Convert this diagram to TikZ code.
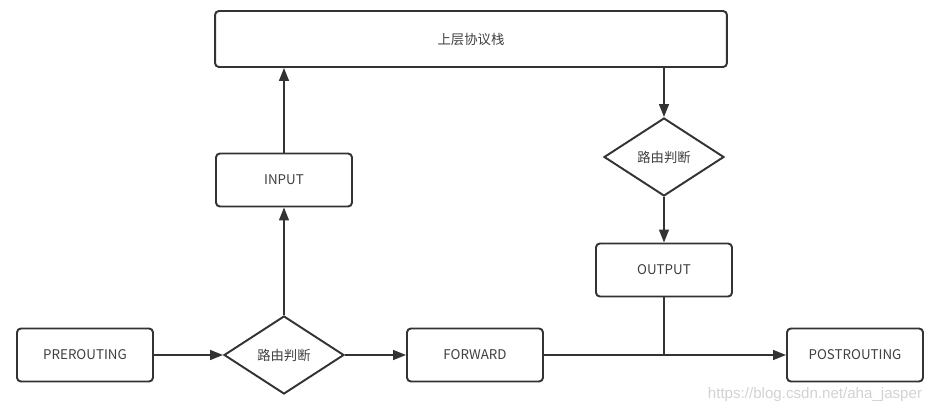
\documentclass[tikz,border=0pt]{standalone}
\usepackage{fontspec}
\setmainfont{Noto Sans CJK SC}
\newfontfamily\markfont{Liberation Sans}
\usepackage{tikz}
\usetikzlibrary{arrows.meta,shapes.geometric}
\definecolor{flowline}{HTML}{333333}
\definecolor{flowtext}{HTML}{404040}
\definecolor{markgray}{HTML}{D2D2D2}
\tikzset{
  >={Triangle[length=7.4pt,width=5.6pt]},
  % knoten
  hook/.style={draw=flowline,line width=1.1pt,rounded corners=2.2pt,fill=white,
               minimum width=2.72cm,minimum height=1.06cm,inner sep=0pt,
               font=\fontsize{7.6}{9}\selectfont,text=flowtext},
  route/.style={diamond,draw=flowline,line width=1.1pt,fill=white,inner sep=0pt,
                minimum width=2.4cm,minimum height=1.56cm,
                font=\fontsize{7.6}{9}\selectfont,text=flowtext},
  % kanten
  link/.style={->,draw=flowline,line width=1.1pt},
  plain/.style={draw=flowline,line width=1.1pt},
}
\begin{document}
\begin{tikzpicture}[x=0.02cm,y=-0.02cm]
\useasboundingbox (0,0) rectangle (938,412);
  \node[hook,minimum width=10.24cm,minimum height=1.12cm] (stack) at (471,39) {上层协议栈};
  \node[hook] (input) at (284,180) {INPUT};
  \node[hook] (pre) at (85,355) {PREROUTING};
  \node[route] (r1) at (284,355) {路由判断};
  \node[hook] (fwd) at (475,355) {FORWARD};
  \node[hook] (post) at (855,355) {POSTROUTING};
  \node[route] (r2) at (664,157) {路由判断};
  \node[hook] (output) at (664,270) {OUTPUT};
  \coordinate (join) at (output |- fwd);
  \draw[link] (pre) -- (r1);
  \draw[link] (r1) -- (fwd);
  \draw[link] (r1) -- (input);
  \draw[link] (input.north) -- (input.north |- stack.south);
  \draw[link] (stack.south -| r2) -- (r2);
  \draw[link] (r2) -- (output);
  \draw[plain] (output) -- (join);
  \draw[link] (fwd) -- (post);
  \node[text=markgray,font=\markfont\fontsize{8.6}{10}\selectfont] (mark) at (815,395) {https://blog.csdn.net/aha\_jasper};
\end{tikzpicture}
\end{document}
